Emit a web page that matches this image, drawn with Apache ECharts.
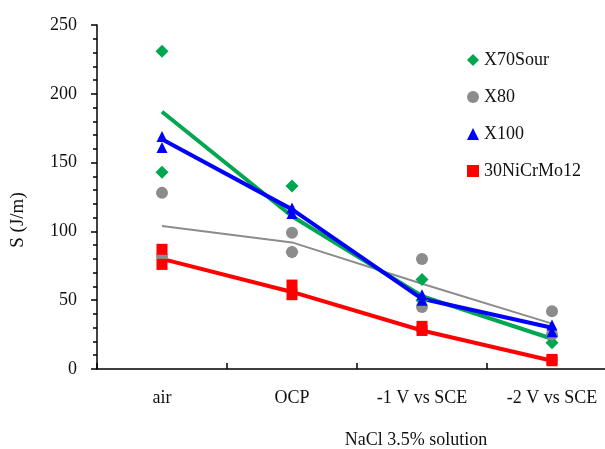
<!DOCTYPE html>
<html>
<head>
<meta charset="utf-8">
<script src="https://cdn.jsdelivr.net/npm/echarts@6/dist/echarts.min.js"></script>
<style>
  html, body { margin: 0; padding: 0; background: #fff; }
  #chart { width: 605px; height: 449px; }
</style>
</head>
<body>
<div id="chart"></div>
<script>
var categories = ['air', 'OCP', '-1 V vs SCE', '-2 V vs SCE'];

// measured points, [category index, value]
var x70Points = [[0, 231], [0, 143], [1, 133], [1, 85], [2, 65], [2, 50], [3, 24], [3, 19]];
var x80Points = [[0, 128], [0, 82], [1, 99], [1, 85], [2, 80], [2, 45], [3, 42], [3, 25]];
var x100Points = [[0, 169], [0, 161], [1, 117], [1, 113], [2, 54], [2, 50], [3, 32], [3, 27]];
var niPoints = [[0, 87], [0, 76], [1, 61], [1, 54], [2, 31], [2, 28], [3, 7], [3, 6]];

// trend lines
var x70Line = [187, 111, 53, 22];
var x80Line = [104, 92, 62, 33];
var x100Line = [167, 116, 51, 30];
var niLine = [80, 56, 28, 6];

var yTicks = { min: 0, max: 250, interval: 50 };

var font = 'Liberation Serif';
var green = '#00A650', gray = '#8C8C8C', blue = '#0000FF', red = '#FF0000';

var chart = echarts.init(document.getElementById('chart'));

function lineSeries(name, data, color, width) {
    return {
        name: name,
        type: 'line',
        data: data,
        symbol: 'none',
        silent: true,
        lineStyle: { color: color, width: width },
        z: 2
    };
}

function pointSeries(name, data, color, symbol, size) {
    return {
        name: name,
        type: 'scatter',
        data: data,
        symbol: symbol,
        symbolSize: size,
        itemStyle: { color: color, opacity: 1 },
        z: 3
    };
}

var option = {
    animation: false,
    backgroundColor: '#fff',
    textStyle: { fontFamily: font },
    grid: { left: 97, top: 25, right: -12, bottom: 80, outerBoundsMode: 'none', containLabel: false },
    legend: {
        orient: 'vertical',
        left: 462,
        top: 46,
        itemGap: 19,
        itemWidth: 12,
        itemHeight: 12,
        textStyle: { fontFamily: font, fontSize: 18, color: '#111' },
        data: [
            { name: 'X70Sour', icon: 'diamond' },
            { name: 'X80', icon: 'circle' },
            { name: 'X100', icon: 'triangle' },
            { name: '30NiCrMo12', icon: 'rect' }
        ]
    },
    xAxis: {
        type: 'category',
        data: categories,
        axisLine: { lineStyle: { color: '#000', width: 1.5 } },
        axisTick: { show: true, inside: true, length: 6, lineStyle: { color: '#000', width: 1.5 } },
        axisLabel: { color: '#111', fontSize: 18, fontFamily: font, margin: 20 },
        splitLine: { show: false }
    },
    yAxis: {
        type: 'value',
        min: yTicks.min,
        max: yTicks.max,
        interval: yTicks.interval,
        axisLine: { show: true, lineStyle: { color: '#000', width: 1.5 } },
        axisTick: { show: true, inside: false, length: 6, lineStyle: { color: '#000', width: 1.5 } },
        minorTick: { show: true, splitNumber: 5, length: 4, lineStyle: { color: '#000', width: 1.5 } },
        axisLabel: { color: '#111', fontSize: 18, fontFamily: font, margin: 20 },
        splitLine: { show: false }
    },
    graphic: [
        {
            type: 'text',
            x: 18, y: 220,
            rotation: Math.PI / 2,
            style: { text: 'S (J/m)', font: '19px "Liberation Serif"', fill: '#111', align: 'center', verticalAlign: 'middle' }
        },
        {
            type: 'text',
            x: 416, y: 440,
            style: { text: 'NaCl 3.5% solution', font: '18px "Liberation Serif"', fill: '#111', align: 'center', verticalAlign: 'middle' }
        }
    ],
    series: [
        lineSeries('X80 trend', x80Line, gray, 2),
        lineSeries('30NiCrMo12 trend', niLine, red, 4),
        lineSeries('X70Sour trend', x70Line, green, 4),
        lineSeries('X100 trend', x100Line, blue, 4),
        pointSeries('X70Sour', x70Points, green, 'diamond', 13),
        pointSeries('X80', x80Points, gray, 'circle', 12),
        pointSeries('X100', x100Points, blue, 'triangle', 11),
        pointSeries('30NiCrMo12', niPoints, red, 'rect', 11)
    ]
};

chart.setOption(option);
</script>
</body>
</html>
